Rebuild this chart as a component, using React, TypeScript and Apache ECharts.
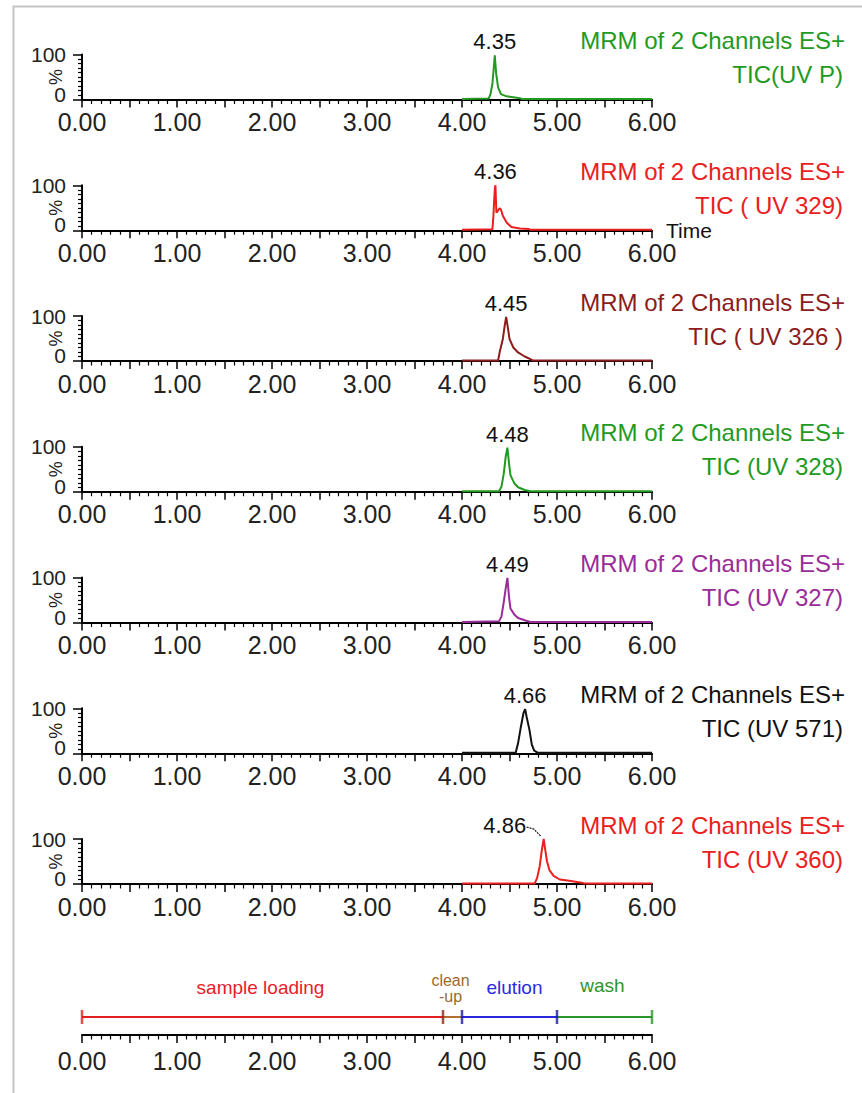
import React, { useEffect, useRef } from 'react';
import * as echarts from 'echarts';

// ---------- data ----------
const xMin = 0;
const xMax = 6;
const xStep = 0.5;

const headerText = 'MRM of 2 Channels ES+';
const channelNames = [
  'TIC(UV P)',
  'TIC ( UV 329)',
  'TIC ( UV 326 )',
  'TIC (UV 328)',
  'TIC (UV 327)',
  'TIC (UV 571)',
  'TIC (UV 360)',
];
const peakLabels = ['4.35', '4.36', '4.45', '4.48', '4.49', '4.66', '4.86'];

const t1 = [4.0, 4.28, 4.3, 4.32, 4.335, 4.345, 4.36, 4.38, 4.41, 4.47, 4.54, 4.61, 4.63, 6.0];
const v1 = [1, 2, 12, 35, 72, 98, 57, 27, 12, 7, 5, 3, 1, 1];

const t2 = [4.0, 4.32, 4.33, 4.345, 4.352, 4.362, 4.375, 4.395, 4.41, 4.43, 4.47, 4.52, 4.61, 4.7, 4.72, 6.0];
const v2 = [1, 2, 30, 90, 100, 39, 42, 49, 46, 32, 17, 7, 4, 3, 1, 1];

const t3 = [4.0, 4.38, 4.4, 4.43, 4.45, 4.465, 4.485, 4.5, 4.54, 4.59, 4.66, 4.72, 4.75, 6.0];
const v3 = [1, 1, 23, 49, 79, 98, 71, 49, 30, 19, 10, 4, 1, 1];

const t4 = [4.0, 4.39, 4.415, 4.44, 4.46, 4.478, 4.495, 4.51, 4.55, 4.59, 4.66, 4.72, 6.0];
const v4 = [1, 1, 11, 41, 78, 98, 63, 37, 19, 10, 4, 1, 1];

const t5 = [4.0, 4.39, 4.415, 4.44, 4.46, 4.478, 4.495, 4.51, 4.55, 4.59, 4.66, 4.72, 6.0];
const v5 = [1, 3, 13, 46, 76, 99, 57, 31, 18, 10, 5, 1, 1];

const t6 = [4.0, 4.565, 4.59, 4.62, 4.647, 4.665, 4.68, 4.71, 4.735, 4.76, 4.8, 6.0];
const v6 = [1, 1, 22, 59, 89, 98, 81, 52, 19, 6, 1, 1];

const t7 = [4.0, 4.764, 4.79, 4.817, 4.84, 4.86, 4.877, 4.895, 4.92, 4.965, 5.03, 5.13, 5.26, 5.29, 6.0];
const v7 = [1, 1, 13, 38, 75, 100, 75, 50, 31, 18, 10, 7, 3, 1, 1];

const phaseNames = ['sample loading', 'clean\n-up', 'elution', 'wash'];
const phaseStarts = [0, 3.8, 4.0, 5.0];
const phaseEnds = [3.8, 4.0, 5.0, 6.0];

// ---------- styles ----------
const FONT = '"Liberation Sans", Arial, Helvetica, sans-serif';
const traceColors = ['#229a22', '#ea2020', '#8c1c1c', '#229a22', '#9a2c9a', '#111111', '#ea2020'];
const phaseLineColors = ['#e22020', '#b07030', '#2828e0', '#2a962a'];
const phaseTextColors = ['#e8202a', '#a0682a', '#2a2ae0', '#2a962a'];
const phaseLabelOffsets = [[-2, 0], [-2, 0], [5, 0], [-2, 0]];
const phaseLabelDistances = [19, 12, 19, 21];
const phaseLabelSizes = [19, 16, 19, 19];
const phaseLabelLineHeights = [20, 16, 20, 20];
const boundaryColors = ['#e22020', '#8a2a12', '#1a1a9a', '#1a1a9a', '#2a962a'];

const series = [
  { t: t1, v: v1 },
  { t: t2, v: v2 },
  { t: t3, v: v3 },
  { t: t4, v: v4 },
  { t: t5, v: v5 },
  { t: t6, v: v6 },
  { t: t7, v: v7 },
];

const GRID_LEFT = 82;
const GRID_WIDTH = 570;
const PANEL_H = 45;
const FIRST_AXIS_Y = 99.5;
const PANEL_STEP = 130.75;
const TIMELINE_AXIS_Y = 1035;
const TIMELINE_H = 75;
const PHASE_Y = 0.6;

function xLabel(v: number) {
  return Math.abs(v - Math.round(v)) < 1e-9 ? v.toFixed(2) : '';
}

function makeXAxis(gridIndex: number, margin: number, name?: string) {
  return {
    type: 'value',
    gridIndex,
    min: xMin,
    max: xMax,
    interval: xStep,
    name: name || '',
    nameLocation: 'end',
    nameGap: 14,
    nameMoveOverlap: false,
    nameTextStyle: { fontSize: 21, color: '#111', fontFamily: FONT, verticalAlign: 'middle', padding: [4, 0, 0, 0] },
    axisLine: { show: true, onZero: false, lineStyle: { color: '#000', width: 2 } },
    axisTick: { show: true, length: 8, lineStyle: { color: '#000', width: 1.5 } },
    minorTick: { show: true, splitNumber: 5, length: 4.5, lineStyle: { color: '#000', width: 1.2 } },
    axisLabel: { formatter: xLabel, fontSize: 25, color: '#222', fontFamily: FONT, margin },
    splitLine: { show: false },
    minorSplitLine: { show: false },
  };
}

export default function App() {
  const ref = useRef<HTMLDivElement>(null);

  useEffect(() => {
    if (!ref.current) return;
    const chart = echarts.init(ref.current, null, { renderer: 'svg' });

    const axisYs = series.map((_, i) => FIRST_AXIS_Y + i * PANEL_STEP);
    const peaks = series.map((s) => {
      let idx = 0;
      s.v.forEach((val, j) => {
        if (val > s.v[idx]) idx = j;
      });
      return [s.t[idx], s.v[idx]];
    });

    const grids: any[] = axisYs.map((y) => ({
      left: GRID_LEFT,
      width: GRID_WIDTH,
      top: y - PANEL_H,
      height: PANEL_H,
      outerBoundsMode: 'none',
      containLabel: false,
    }));
    grids.push({
      left: GRID_LEFT,
      width: GRID_WIDTH,
      top: TIMELINE_AXIS_Y - TIMELINE_H,
      height: TIMELINE_H,
      outerBoundsMode: 'none',
      containLabel: false,
    });

    const xAxes: any[] = series.map((_, i) => makeXAxis(i, 10, i === 1 ? 'Time' : ''));
    xAxes.push(makeXAxis(series.length, 13));

    const yAxes: any[] = series.map((_, i) => ({
      type: 'value',
      gridIndex: i,
      min: 0,
      max: 100,
      interval: 100,
      name: '%',
      nameLocation: 'middle',
      nameRotate: 90,
      nameGap: 17,
      nameMoveOverlap: false,
      nameTextStyle: { fontSize: 18, color: '#222', fontFamily: FONT },
      axisLine: { show: true, lineStyle: { color: '#000', width: 2 } },
      axisTick: { show: true, length: 9, lineStyle: { color: '#000', width: 1.5 } },
      minorTick: { show: true, splitNumber: 10, length: 4, lineStyle: { color: '#000', width: 1.2 } },
      axisLabel: {
        fontSize: 21,
        color: '#222',
        fontFamily: FONT,
        margin: 16,
        formatter: (v: number) => (v === 0 ? '{z|0}' : String(v)),
        rich: { z: { fontSize: 21, color: '#222', fontFamily: FONT, padding: [0, 0, 11, 0] } },
      },
      splitLine: { show: false },
      minorSplitLine: { show: false },
    }));
    yAxes.push({ type: 'value', gridIndex: series.length, min: 0, max: 2.5, show: false });

    const seriesOpts: any[] = series.map((s, i) => ({
      type: 'line',
      xAxisIndex: i,
      yAxisIndex: i,
      data: s.t.map((x, j) => [x, s.v[j]]),
      showSymbol: false,
      clip: false,
      lineStyle: { color: traceColors[i], width: 2 },
      itemStyle: { color: traceColors[i] },
      z: 5,
      markPoint: {
        symbol: 'circle',
        symbolSize: 1,
        itemStyle: { color: 'rgba(0,0,0,0)' },
        label: {
          show: true,
          formatter: peakLabels[i],
          position: 'top',
          distance: 2,
          offset: i === 6 ? [-39, 0] : [0, 0],
          fontSize: 22,
          color: '#111',
          fontFamily: FONT,
        },
        data: [{ coord: peaks[i] }],
      },
    }));

    const tl = series.length;
    phaseNames.forEach((name, k) => {
      seriesOpts.push({
        type: 'line',
        xAxisIndex: tl,
        yAxisIndex: tl,
        data: [
          [phaseStarts[k], PHASE_Y],
          [phaseEnds[k], PHASE_Y],
        ],
        showSymbol: false,
        clip: false,
        lineStyle: { color: phaseLineColors[k], width: 2 },
        markPoint: {
          symbol: 'circle',
          symbolSize: 1,
          itemStyle: { color: 'rgba(0,0,0,0)' },
          label: {
            show: true,
            formatter: name,
            position: 'top',
            distance: phaseLabelDistances[k],
            offset: phaseLabelOffsets[k],
            fontSize: phaseLabelSizes[k],
            lineHeight: phaseLabelLineHeights[k],
            color: phaseTextColors[k],
            fontFamily: FONT,
          },
          data: [{ coord: [(phaseStarts[k] + phaseEnds[k]) / 2, PHASE_Y] }],
        },
      });
    });
    const boundaries = phaseStarts.concat([phaseEnds[phaseEnds.length - 1]]);
    seriesOpts.push({
      type: 'scatter',
      xAxisIndex: tl,
      yAxisIndex: tl,
      symbol: 'rect',
      symbolSize: [2.5, 14],
      clip: false,
      z: 6,
      data: boundaries.map((b, k) => ({ value: [b, PHASE_Y], itemStyle: { color: boundaryColors[k] } })),
    });

    chart.setOption({
      animation: false,
      backgroundColor: '#ffffff',
      grid: grids,
      xAxis: xAxes,
      yAxis: yAxes,
      series: seriesOpts,
    });

    const graphics: any[] = [
      {
        id: 'frame',
        type: 'rect',
        z: -10,
        shape: { x: 13.5, y: 6.5, width: 1200, height: 1600 },
        style: { fill: 'none', stroke: '#c4c4c4', lineWidth: 2 },
      },
    ];
    axisYs.forEach((y, i) => {
      graphics.push({
        id: 'h' + i,
        type: 'text',
        x: 845,
        y: y - 59,
        style: {
          text: headerText,
          align: 'right',
          verticalAlign: 'middle',
          fontSize: 24,
          fontFamily: FONT,
          fill: traceColors[i],
        },
      });
      graphics.push({
        id: 'c' + i,
        type: 'text',
        x: 843,
        y: y - 25,
        style: {
          text: channelNames[i],
          align: 'right',
          verticalAlign: 'middle',
          fontSize: 24,
          fontFamily: FONT,
          fill: traceColors[i],
        },
      });
    });
    const p = chart.convertToPixel({ gridIndex: 6 }, peaks[6]) as number[];
    graphics.push({
      id: 'leader',
      type: 'polyline',
      shape: {
        points: [
          [p[0] - 17, p[1] - 12],
          [p[0] - 10, p[1] - 10],
          [p[0] - 3, p[1] - 3],
        ],
      },
      style: { stroke: '#222', lineWidth: 1.3, fill: 'none', lineDash: [2, 1] },
    });
    chart.setOption({ graphic: graphics });

    return () => chart.dispose();
  }, []);

  return (
    <div
      ref={ref}
      style={{ position: 'fixed', left: 0, top: 0, width: 862, height: 1093, background: '#fff' }}
    />
  );
}
